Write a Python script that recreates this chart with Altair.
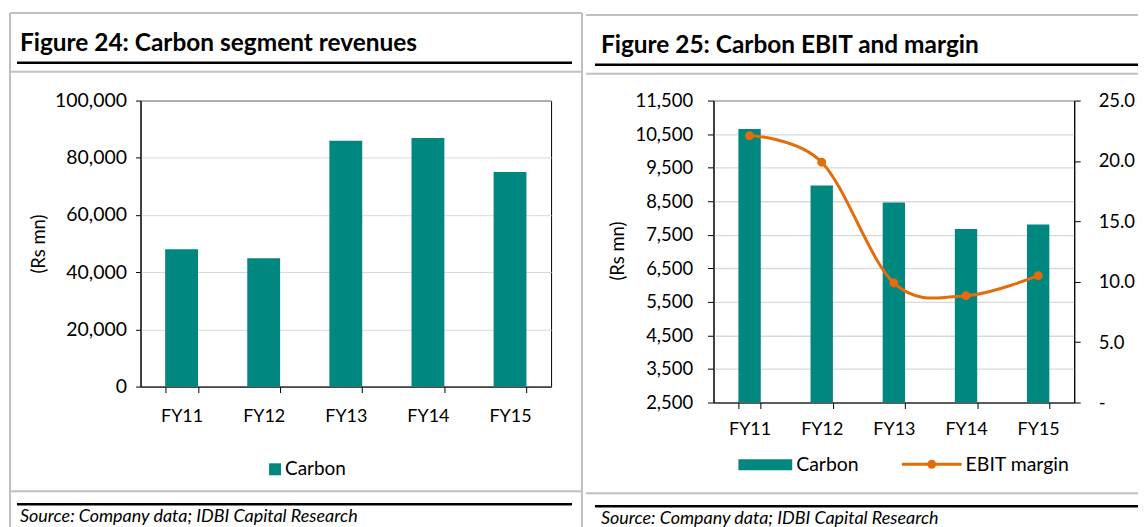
import altair as alt
import pandas as pd

# ---------------- data ----------------
years = ["FY11", "FY12", "FY13", "FY14", "FY15"]
revenue = [48000, 44900, 86000, 86900, 75000]          # Figure 24, Rs mn
ebit = [10650, 8970, 8460, 7670, 7810]                 # Figure 25 bars, Rs mn
ebit_margin = [22.1, 19.9, 9.9, 8.85, 10.5]            # Figure 25 line, %
rev_ticks = [0, 20000, 40000, 60000, 80000, 100000]
ebit_ticks = [2500, 3500, 4500, 5500, 6500, 7500, 8500, 9500, 10500, 11500]
margin_ticks = [0, 5, 10, 15, 20, 25]

title_left = "Figure 24: Carbon segment revenues"
title_right = "Figure 25: Carbon EBIT and margin"
source_text = "Source: Company data; IDBI Capital Research"
unit_label = "(Rs mn)"
legend_bar = "Carbon"
legend_line = "EBIT margin"

TEAL = "#00877F"
ORANGE = "#E46C0A"
GRID = "#D9D9D9"
BORDER = "#C0C0C0"
FONT = "Lato"

left_df = pd.DataFrame({"year": years, "revenue": revenue})
right_df = pd.DataFrame({"year": years, "ebit": ebit, "margin": ebit_margin})
one = pd.DataFrame({"k": [0]})


class Deco:
    """Page decorations placed in pixels relative to a panel's plot origin."""

    def __init__(self, ox, oy):
        self.ox, self.oy = ox, oy
        self.layers = []

    def hline(self, x1, x2, y, color, w):
        self.layers.append(alt.Chart(one).mark_rule(color=color, strokeWidth=w).encode(
            x=alt.value(x1 - self.ox), x2=alt.value(x2 - self.ox),
            y=alt.value(y - self.oy), y2=alt.value(y - self.oy)))

    def vline(self, x, y1, y2, color, w):
        self.layers.append(alt.Chart(one).mark_rule(color=color, strokeWidth=w).encode(
            x=alt.value(x - self.ox), x2=alt.value(x - self.ox),
            y=alt.value(y1 - self.oy), y2=alt.value(y2 - self.oy)))

    def rect(self, x1, x2, y1, y2, color):
        self.layers.append(alt.Chart(one).mark_rect(color=color).encode(
            x=alt.value(x1 - self.ox), x2=alt.value(x2 - self.ox),
            y=alt.value(y1 - self.oy), y2=alt.value(y2 - self.oy)))

    def dot(self, x, y, color, size):
        self.layers.append(alt.Chart(one).mark_circle(color=color, size=size, opacity=1).encode(
            x=alt.value(x - self.ox), y=alt.value(y - self.oy)))

    def text(self, s, x, y, size, weight="normal", style="normal", align="left",
             baseline="alphabetic", angle=None):
        kw = dict(text=s, font=FONT, fontSize=size, fontWeight=weight, fontStyle=style,
                  align=align, baseline=baseline, color="black")
        if angle is not None:
            kw["angle"] = angle
        self.layers.append(alt.Chart(one).mark_text(**kw).encode(
            x=alt.value(x - self.ox), y=alt.value(y - self.oy)))


AX = dict(labelFont=FONT, labelColor="black",
          domainColor="black", tickColor="black", domainWidth=1, tickWidth=1)

# ---------------- left panel ----------------
LX, LY, LW, LH = 140, 99, 412, 287
dl = Deco(LX, LY)
dl.hline(9, 583, 11, BORDER, 2)
dl.vline(9, 11, 527, BORDER, 2)
dl.vline(583, 11, 527, BORDER, 2)
dl.text(title_left, 19, 49, 24.5, weight="bold")
dl.hline(16, 573, 61, "black", 2.5)
dl.hline(9, 583, 70, BORDER, 2)
dl.text(unit_label, 38, 243, 18.5, align="center", baseline="middle", angle=270)
dl.rect(269, 281, 463, 475, TEAL)
dl.text(legend_bar, 285, 475, 19)
dl.hline(9, 583, 491, BORDER, 2)
dl.hline(16, 573, 504, "black", 2.5)
dl.text(source_text, 19, 522, 18, style="italic")

left_bars = alt.Chart(left_df).mark_bar(color=TEAL).encode(
    x=alt.X("year:N", sort=years,
            scale=alt.Scale(paddingInner=0.6, paddingOuter=0.3),
            axis=alt.Axis(title=None, labelAngle=0, tickBand="extent", tickSize=6,
                          labelPadding=15, labelFontSize=18, grid=False, **AX)),
    y=alt.Y("revenue:Q", scale=alt.Scale(domain=[0, 100000], nice=False),
            axis=alt.Axis(values=rev_ticks, format=",.0f", title=None, grid=True,
                          gridColor=GRID, gridWidth=1, tickSize=5, labelPadding=9,
                          labelFontSize=19.5, **AX)),
)
left = alt.layer(left_bars, *dl.layers).properties(width=LW, height=LH)

# ---------------- right panel ----------------
RX, RY, RW, RH = 713, 97, 362, 303
dr = Deco(RX, RY)
dr.hline(585, 1139, 11, BORDER, 2)
dr.text(title_right, 600, 49, 24.5, weight="bold")
dr.hline(594, 1139, 61, "black", 2.5)
dr.hline(585, 1139, 70, BORDER, 2)
dr.text(unit_label, 617, 248, 18.5, align="center", baseline="middle", angle=270)
dr.rect(738, 792, 457, 468, TEAL)
dr.text(legend_bar, 796, 469, 19.5)
dr.hline(902, 962, 462, ORANGE, 3)
dr.dot(932, 462, ORANGE, 80)
dr.text(legend_line, 966, 469, 19.5)
dr.hline(585, 1139, 491, BORDER, 2)
dr.hline(594, 1139, 504, "black", 2.5)
dr.text(source_text, 600, 522, 18, style="italic")

xr = alt.X("year:N", sort=years,
           scale=alt.Scale(paddingInner=0.69, paddingOuter=0.345),
           axis=alt.Axis(title=None, labelAngle=0, tickBand="extent", tickSize=6,
                         labelPadding=12, labelFontSize=18, grid=False, **AX))
margin_scale = alt.Scale(domain=[0, 25], nice=False)

right_bars = alt.Chart(right_df).mark_bar(color=TEAL).encode(
    x=xr,
    y=alt.Y("ebit:Q", scale=alt.Scale(domain=[2500, 11500], nice=False),
            axis=alt.Axis(values=ebit_ticks, format=",.0f", title=None, grid=True,
                          gridColor=GRID, gridWidth=1.3, tickSize=6, labelPadding=15,
                          labelFontSize=18.5, **AX)),
    y2=alt.datum(2500),
)
right_line = alt.Chart(right_df).mark_line(color=ORANGE, strokeWidth=3,
                                           interpolate="cardinal").encode(
    x=xr,
    y=alt.Y("margin:Q", scale=margin_scale,
            axis=alt.Axis(orient="right", values=margin_ticks, title=None, grid=False,
                          labelExpr="datum.value == 0 ? '-' : format(datum.value, '.1f')",
                          tickSize=6, labelPadding=18, labelFontSize=18.5, **AX)),
)
right_pts = alt.Chart(right_df).mark_circle(color=ORANGE, size=80, opacity=1).encode(
    x=xr,
    y=alt.Y("margin:Q", scale=margin_scale, axis=None),
)
right = alt.layer(right_bars, right_line, right_pts, *dr.layers).resolve_scale(
    y="independent").properties(width=RW, height=RH)

chart = alt.hconcat(left, right, spacing=0).properties(
    padding={"left": 0, "top": 2, "right": 0, "bottom": 0},
    background="white",
).configure_view(stroke="black", strokeWidth=1)

chart.save("out.html", embed_options={"renderer": "svg", "actions": False})
